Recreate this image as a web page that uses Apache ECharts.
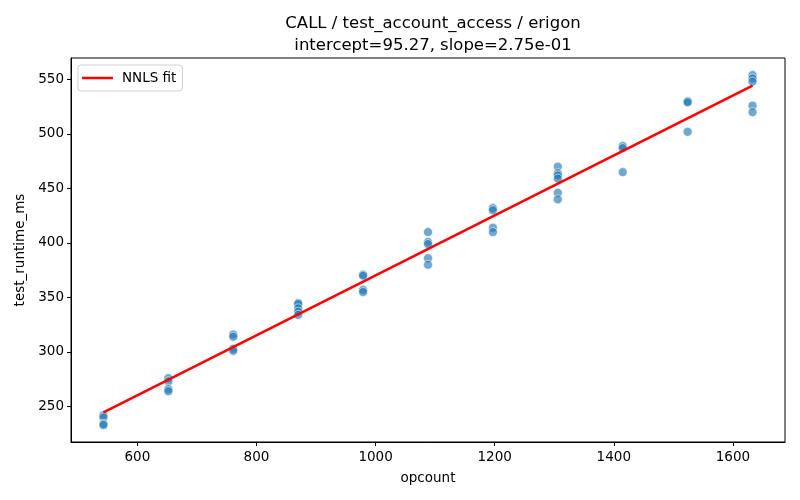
<!DOCTYPE html>
<html><head><meta charset="utf-8">
<script src="https://cdn.jsdelivr.net/npm/echarts@6/dist/echarts.min.js"></script>
<style>html,body{margin:0;padding:0;background:#fff}#c{width:800px;height:500px}</style>
</head><body><div id="c"></div>
<script>
const titleLines = ["CALL / test_account_access / erigon", "intercept=95.27, slope=2.75e-01"];
const intercept = 95.27;
const slope = 0.275;
const opcounts = [543, 652, 761, 870, 979, 1088, 1197, 1306, 1415, 1524, 1633];
const runtimes = [
  [242, 240, 234, 233],
  [276, 273, 266, 264],
  [316, 314, 303, 301],
  [345, 344, 340, 337, 334],
  [371, 370, 357, 355],
  [410, 401, 399, 386, 380],
  [432, 430, 414, 410],
  [470, 464, 462, 459, 446, 440],
  [489, 487, 465],
  [530, 529, 502],
  [554, 551, 548, 526, 520]
];
const xTicks = [600, 800, 1000, 1200, 1400, 1600];
const yTicks = [250, 300, 350, 400, 450, 500, 550];

const pts = [];
opcounts.forEach((x, i) => runtimes[i].forEach(v => pts.push([x, v])));
const xMin = Math.min(...opcounts), xMax = Math.max(...opcounts);
const fit = [[xMin, intercept + slope * xMin], [xMax, intercept + slope * xMax]];

const font = 'DejaVu Sans';
const chart = echarts.init(document.getElementById('c'));
chart.setOption({
  animation: false,
  textStyle: {fontFamily: font},
  title: {
    text: titleLines.join('\n'),
    left: 428, top: 8, textAlign: 'center',
    textStyle: {fontFamily: font, fontSize: 16.5, fontWeight: 'normal', color: '#000', lineHeight: 22}
  },
  grid: {left: 71, top: 58, right: 15, bottom: 58, show: true, borderColor: '#000', borderWidth: 1},
  legend: {
    left: 78, top: 65,
    data: [{name: 'NNLS fit', icon: 'rect'}],
    itemWidth: 31, itemHeight: 2.5,
    backgroundColor: '#fff', borderColor: '#d0d0d0', borderWidth: 1, borderRadius: 3,
    padding: [6, 6, 6, 4], itemGap: 5,
    textStyle: {fontFamily: font, fontSize: 13.5, color: '#000', padding: [0, 0, 0, 4]}
  },
  xAxis: {
    type: 'value', min: 488.5, max: 1687.5,
    name: 'opcount', nameLocation: 'middle', nameGap: 29,
    nameTextStyle: {fontFamily: font, fontSize: 13.5, color: '#000'},
    axisLine: {show: true, lineStyle: {color: '#000'}},
    axisTick: {show: true, customValues: xTicks, length: 4, lineStyle: {color: '#000'}},
    axisLabel: {customValues: xTicks, formatter: v => String(v), fontFamily: font, fontSize: 13.5, color: '#000', margin: 8},
    splitLine: {show: false}
  },
  yAxis: {
    type: 'value', min: 217.4, max: 569.7,
    name: 'test_runtime_ms', nameLocation: 'middle', nameGap: 43,
    nameTextStyle: {fontFamily: font, fontSize: 13.5, color: '#000'},
    axisLine: {show: true, lineStyle: {color: '#000'}},
    axisTick: {show: true, customValues: yTicks, length: 4, lineStyle: {color: '#000'}},
    axisLabel: {customValues: yTicks, formatter: v => String(v), fontFamily: font, fontSize: 13.5, color: '#000', margin: 7},
    splitLine: {show: false}
  },
  series: [
    {
      type: 'scatter', name: 'points', data: pts, symbolSize: 9,
      itemStyle: {color: 'rgba(31,119,180,0.8)', borderColor: '#fff', borderWidth: 0.7},
      z: 2
    },
    {
      type: 'line', name: 'NNLS fit', data: fit, showSymbol: false, symbol: 'none',
      lineStyle: {color: '#ff0000', width: 2.6}, itemStyle: {color: '#ff0000'}, z: 3
    }
  ]
});
</script></body></html>
